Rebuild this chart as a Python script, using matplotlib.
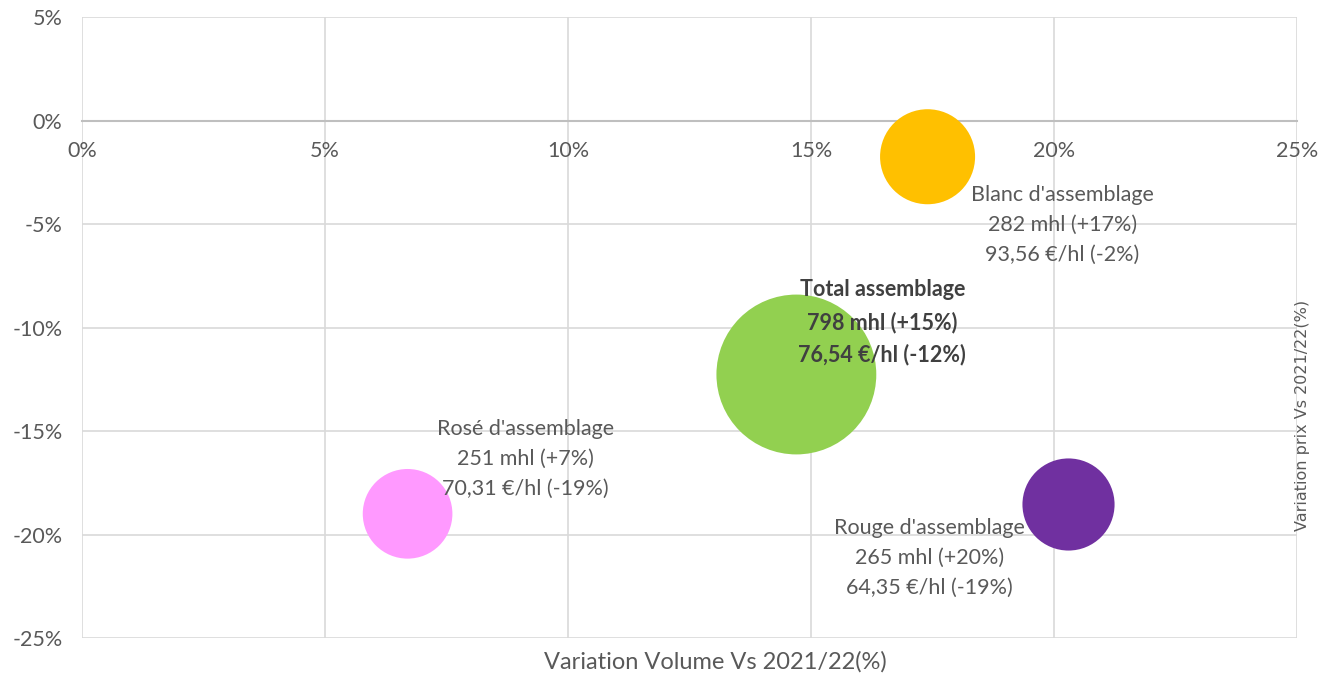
import matplotlib.pyplot as plt
from matplotlib.ticker import FuncFormatter

# ── Data ──────────────────────────────────────────────────────────────────────
names      = ["Blanc d'assemblage", "Total assemblage", "Rosé d'assemblage", "Rouge d'assemblage"]
vol_var    = [17.4, 14.7, 6.7, 20.3]       # % volume variation vs 2021/22
price_var  = [-1.75, -12.27, -19.0, -18.55] # % price variation vs 2021/22
volumes    = [282, 798, 251, 265]          # mhl
prices     = ["93,56", "76,54", "70,31", "64,35"]
vol_pct    = ["+17%", "+15%", "+7%", "+20%"]
price_pct  = ["-2%", "-12%", "-19%", "-19%"]
colors     = ['#FFC000', '#92D050', '#FF99FF', '#7030A0']
bold       = [False, True, False, False]
# label offsets from bubble centre, in pixels
offsets    = [(135, -68), (86, 52), (118, 55), (-139, -53)]

FONT = ['Lato', 'DejaVu Sans']
TXT = '#595959'

fig = plt.figure(figsize=(13.18, 6.75), dpi=100)
ax = fig.add_axes([0.0622, 0.0548, 0.984 - 0.0622, 0.9748 - 0.0548])

sizes = [v * 16.6 for v in volumes]
ax.scatter(vol_var, price_var, s=sizes, c=colors, linewidths=0, zorder=3)

for i in range(len(names)):
    label = f"{names[i]}\n{volumes[i]} mhl ({vol_pct[i]})\n{prices[i]} €/hl ({price_pct[i]})"
    ax.annotate(label, xy=(vol_var[i], price_var[i]), xytext=offsets[i],
                textcoords='offset pixels', ha='center', va='center',
                fontsize=15.5, color='#404040' if bold[i] else TXT,
                fontweight='bold' if bold[i] else 'normal',
                family=FONT, linespacing=1.62, zorder=4)

ax.set_xlim(0, 25)
ax.set_ylim(-25, 5)
ax.set_xticks([0, 5, 10, 15, 20, 25])
ax.set_yticks([-25, -20, -15, -10, -5, 0, 5])
pct = FuncFormatter(lambda v, _: f"{v:.0f}%")
ax.xaxis.set_major_formatter(pct)
ax.yaxis.set_major_formatter(pct)

ax.grid(True, color='#d9d9d9', linewidth=1.2, zorder=0)
ax.set_axisbelow(True)
for s in ['top', 'right', 'left']:
    ax.spines[s].set_visible(False)
ax.spines['bottom'].set_position(('data', 0))
ax.spines['bottom'].set_color('#bfbfbf')
ax.spines['bottom'].set_linewidth(1.5)
ax.tick_params(axis='both', length=0, labelsize=15.5, labelcolor=TXT)
ax.tick_params(axis='x', pad=15)
ax.tick_params(axis='y', pad=14)
for lab in ax.get_xticklabels() + ax.get_yticklabels():
    lab.set_family(FONT)

fig.text(0.5425, 0.019, "Variation Volume Vs 2021/22(%)", ha='center', va='center',
         fontsize=17, color=TXT, family=FONT)
fig.text(0.9885, 0.385, "Variation prix Vs 2021/22(%)", ha='center', va='center',
         rotation=90, fontsize=11.5, color=TXT, family=['DejaVu Sans'])

fig.savefig('out.png', dpi=100)
